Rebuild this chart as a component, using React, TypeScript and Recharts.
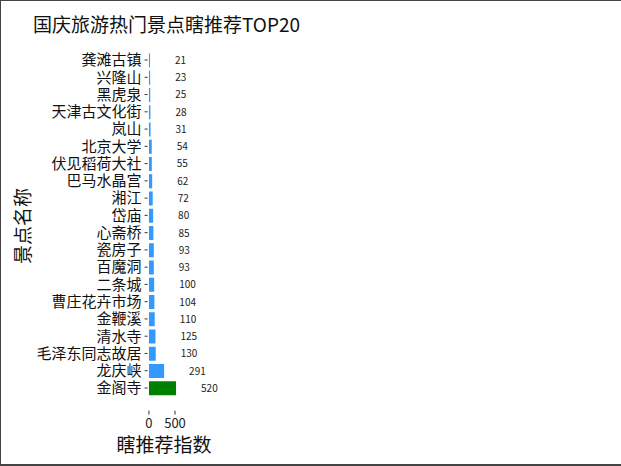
import { BarChart, Bar, XAxis, YAxis, Cell, LabelList } from "recharts";

const places = [
  "龚滩古镇", "兴隆山", "黑虎泉", "天津古文化街", "岚山", "北京大学", "伏见稻荷大社", "巴马水晶宫",
  "湘江", "岱庙", "心斋桥", "瓷房子", "百魔洞", "二条城", "曹庄花卉市场", "金鞭溪",
  "清水寺", "毛泽东同志故居", "龙庆峡", "金阁寺",
];
const scores = [21, 23, 25, 28, 31, 54, 55, 62, 72, 80, 85, 93, 93, 100, 104, 110, 125, 130, 291, 520];
const xTicks = [0, 500];

const data = places.map((name, i) => ({ name, value: scores[i] }));
const topScore = Math.max(...scores);

const font = "'Noto Sans CJK SC', 'Noto Sans', sans-serif";

function XTick(props: any) {
  const { x, y, payload } = props;
  return (
    <g>
      <line x1={x} x2={x} y1={y + 14} y2={y + 18} stroke="#333" strokeWidth={1} />
      <text x={x} y={y + 31} textAnchor="middle" fontSize={13} fill="#222" fontFamily={font}>
        {payload.value}
      </text>
    </g>
  );
}

function ValueLabel(props: any) {
  const { x, y, width, height, value } = props;
  return (
    <text x={x + width + 25} y={y + height / 2 + 3.5} fontSize={10} fill="#222" fontFamily={font}>
      {value}
    </text>
  );
}

export default function App() {
  return (
    <div
      style={{
        position: "absolute",
        left: 0,
        top: 0,
        width: 621,
        height: 466,
        boxSizing: "border-box",
        borderTop: "1px solid #444",
        borderLeft: "1px solid #444",
        borderBottom: "2px solid #444",
        background: "#fff",
        fontFamily: font,
      }}
    >
      <div style={{ position: "absolute", left: 32, top: 9, fontSize: 19, color: "#111", whiteSpace: "nowrap" }}>
        国庆旅游热门景点瞎推荐TOP20
      </div>
      <div
        style={{
          position: "absolute",
          left: 20,
          top: 225,
          fontSize: 19,
          color: "#111",
          whiteSpace: "nowrap",
          transform: "translate(-50%, -50%) rotate(-90deg)",
        }}
      >
        景点名称
      </div>
      <div
        style={{
          position: "absolute",
          left: 163,
          top: 442,
          fontSize: 19,
          color: "#111",
          whiteSpace: "nowrap",
          transform: "translate(-50%, -50%)",
        }}
      >
        瞎推荐指数
      </div>
      <div style={{ position: "absolute", left: -1, top: -1 }}>
        <BarChart
          width={621}
          height={466}
          data={data}
          layout="vertical"
          margin={{ top: 51.4, right: 443.6, bottom: 0, left: 0 }}
        >
          <XAxis
            type="number"
            domain={[-26, 546]}
            allowDataOverflow
            ticks={xTicks}
            axisLine={false}
            tickLine={false}
            tickSize={0}
            tickMargin={0}
            tick={<XTick />}
            height={69.4}
          />
          <YAxis
            type="category"
            dataKey="name"
            width={147.6}
            axisLine={false}
            tickSize={3}
            tickMargin={3}
            tickLine={{ stroke: "#333" }}
            interval={0}
            tick={{ fontSize: 15, fill: "#111", fontFamily: font }}
          />
          <Bar dataKey="value" barSize={14} isAnimationActive={false}>
            {data.map((d) => (
              <Cell key={d.name} fill={d.value === topScore ? "#008000" : "#3399FF"} />
            ))}
            <LabelList dataKey="value" content={<ValueLabel />} />
          </Bar>
        </BarChart>
      </div>
    </div>
  );
}
